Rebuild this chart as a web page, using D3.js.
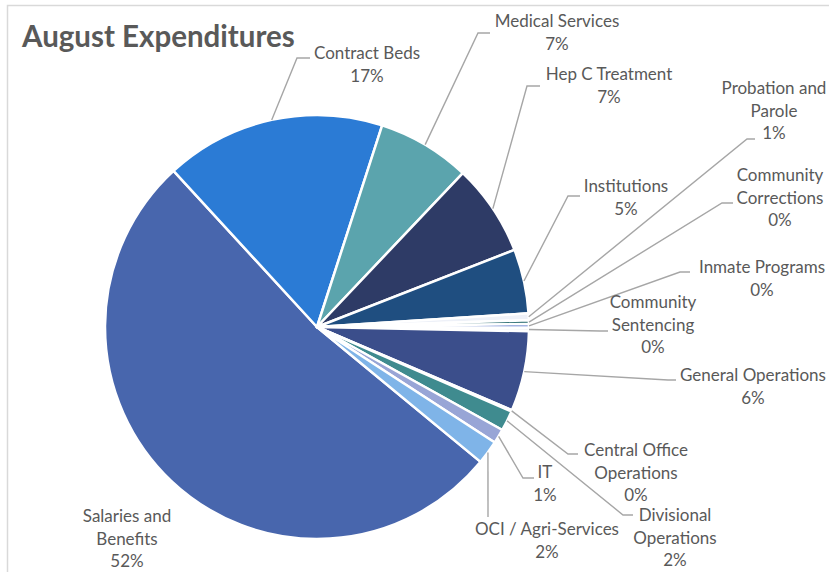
<!DOCTYPE html>
<html>
<head>
<meta charset="utf-8">
<script src="https://cdn.jsdelivr.net/npm/d3@7"></script>
<style>
  html, body { margin: 0; padding: 0; background: #fff; }
  svg { display: block; }
</style>
</head>
<body>
<svg id="chart" width="829" height="572"></svg>
<script>
// Expenditure categories, in clockwise drawing order
const categories = [
  "Salaries and Benefits", "Contract Beds", "Medical Services", "Hep C Treatment",
  "Institutions", "Probation and Parole", "Community Corrections", "Inmate Programs",
  "Community Sentencing", "General Operations", "Central Office Operations",
  "Divisional Operations", "IT", "OCI / Agri-Services"
];
// Share of August spending (percent)
const values = [52.2, 16.8, 7.1, 7.0, 4.9, 0.52, 0.28, 0.28, 0.27, 6.1, 0.1, 1.55, 1.1, 1.8];
const colors = [
  "#4866ad", "#2b7bd5", "#5ba4ad", "#2e3b66", "#1f4e80", "#eef1f8", "#2e6f73",
  "#4b6bc5", "#f4f5f8", "#3b4e8b", "#3a4a80", "#3f8b8f", "#98a5d6", "#7fb4e8"
];
const title = "August Expenditures";

// Label placement: text lines, centre x, first baseline, leader elbow and end
const labelLayout = {
  "Salaries and Benefits":     { lines: ["Salaries and", "Benefits"], x: 127, y: 522, leader: null },
  "Contract Beds":             { lines: ["Contract Beds"], x: 367, y: 59,  leader: [[297, 58], [310, 58]] },
  "Medical Services":          { lines: ["Medical Services"], x: 557, y: 27, leader: [[478, 33], [490, 33]] },
  "Hep C Treatment":           { lines: ["Hep C Treatment"], x: 609, y: 80, leader: [[527, 86], [540, 86]] },
  "Institutions":              { lines: ["Institutions"], x: 626, y: 192, leader: [[568, 196], [580, 196]] },
  "Probation and Parole":      { lines: ["Probation and", "Parole"], x: 774, y: 94, leader: [[747, 139], [755, 139]] },
  "Community Corrections":     { lines: ["Community", "Corrections"], x: 780, y: 181, leader: [[722, 203], [733, 203]] },
  "Inmate Programs":           { lines: ["Inmate Programs"], x: 762, y: 273, leader: [[680, 272], [690, 272]] },
  "Community Sentencing":      { lines: ["Community", "Sentencing"], x: 653, y: 308, leader: [[600, 331], [608, 331]] },
  "General Operations":        { lines: ["General Operations"], x: 753, y: 381, leader: [[668, 380], [676, 380]] },
  "Central Office Operations": { lines: ["Central Office", "Operations"], x: 636, y: 456, leader: [[568, 454], [578, 454]] },
  "Divisional Operations":     { lines: ["Divisional", "Operations"], x: 675, y: 521, leader: [[623, 515], [633, 515]] },
  "IT":                        { lines: ["IT"], x: 545, y: 478, leader: [[523, 478], [534, 478]] },
  "OCI / Agri-Services":       { lines: ["OCI / Agri-Services"], x: 547, y: 535, leader: [[488, 517], [488, 517]] }
};

const svg = d3.select("#chart");
const W = 829, H = 572;
const cx = 317, cy = 327, R = 212;
const lineH = 22.5;
const textColor = "#595959";
const font = "Lato, 'Open Sans', sans-serif";

// Chart frame
svg.append("rect")
  .attr("x", 7.5).attr("y", 5.5)
  .attr("width", W + 20).attr("height", H + 20)
  .attr("fill", "none").attr("stroke", "#d9d9d9").attr("stroke-width", 1.5);

// Title
svg.append("text")
  .attr("x", 22).attr("y", 47)
  .attr("font-family", font).attr("font-weight", "bold")
  .attr("font-size", 29.5).attr("fill", textColor)
  .text(title);

const data = categories.map((c, i) => ({ name: c, value: values[i], color: colors[i] }));
const total = d3.sum(values);

const startDeg = 129.5;
const pie = d3.pie()
  .sort(null)
  .value(d => d.value)
  .startAngle(startDeg * Math.PI / 180)
  .endAngle((startDeg + 360) * Math.PI / 180);

const arcs = pie(data);
const arc = d3.arc().innerRadius(0).outerRadius(R);

const g = svg.append("g").attr("transform", `translate(${cx},${cy})`);

g.selectAll("path.slice")
  .data(arcs)
  .join("path")
  .attr("class", "slice")
  .attr("d", arc)
  .attr("fill", d => d.data.color)
  .attr("stroke", "#fff")
  .attr("stroke-width", 2.5)
  .attr("stroke-linejoin", "round");

// Leader lines from each slice's outer edge to its label
const leaders = svg.append("g");
arcs.forEach(a => {
  const lay = labelLayout[a.data.name];
  if (!lay || !lay.leader) return;
  const mid = (a.startAngle + a.endAngle) / 2;
  const sx = cx + R * Math.sin(mid);
  const sy = cy - R * Math.cos(mid);
  const pts = [[sx, sy], lay.leader[0], lay.leader[1]];
  leaders.append("path")
    .attr("d", d3.line()(pts))
    .attr("fill", "none")
    .attr("stroke", "#a6a6a6")
    .attr("stroke-width", 1.4);
});

// Category labels with percentage
const labels = svg.append("g")
  .attr("font-family", font).attr("font-size", 17)
  .attr("fill", textColor).attr("text-anchor", "middle");

arcs.forEach(a => {
  const lay = labelLayout[a.data.name];
  const pct = Math.round(a.data.value / total * 100) + "%";
  const lines = lay.lines.concat([pct]);
  const t = labels.append("text").attr("x", lay.x).attr("y", lay.y);
  lines.forEach((ln, i) => {
    t.append("tspan")
      .attr("x", lay.x)
      .attr("y", lay.y + i * lineH)
      .text(ln);
  });
});
</script>
</body>
</html>
